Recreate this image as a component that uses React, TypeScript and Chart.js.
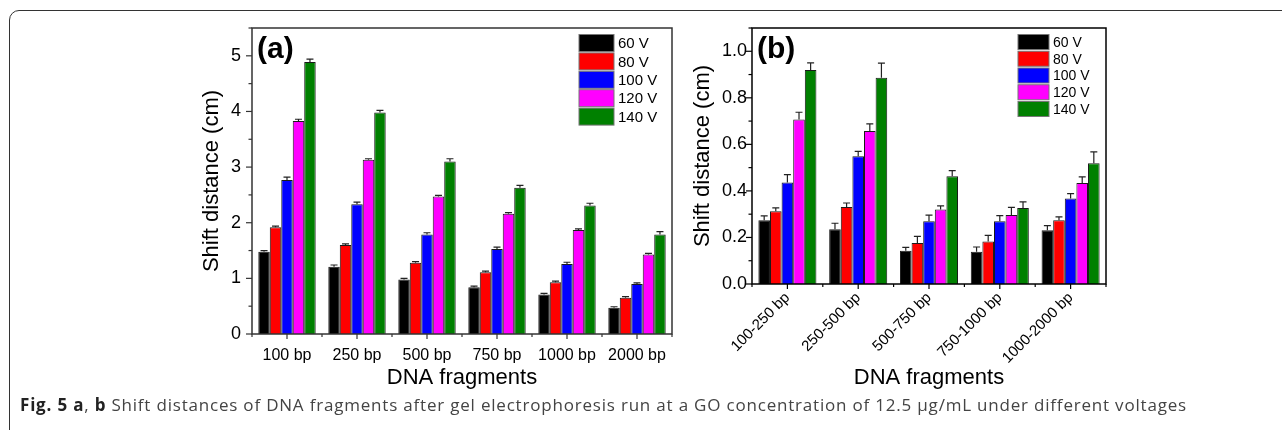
import React, { useEffect, useRef } from 'react';
import { Chart, registerables } from 'chart.js';
Chart.register(...registerables);

// ---------- data ----------
const seriesLabels = ['60 V', '80 V', '100 V', '120 V', '140 V'];
const seriesColors = ['#000000', '#ff0000', '#0000ff', '#ff00ff', '#008000'];

const catsA = ['100 bp', '250 bp', '500 bp', '750 bp', '1000 bp', '2000 bp'];
const v60A = [1.48, 1.21, 0.98, 0.84, 0.71, 0.47];
const v80A = [1.92, 1.6, 1.28, 1.11, 0.93, 0.65];
const v100A = [2.77, 2.33, 1.79, 1.53, 1.26, 0.9];
const v120A = [3.83, 3.13, 2.47, 2.16, 1.87, 1.43];
const v140A = [4.89, 3.98, 3.1, 2.63, 2.31, 1.79];
const e60A = [0.02, 0.03, 0.02, 0.02, 0.02, 0.02];
const e80A = [0.02, 0.02, 0.02, 0.02, 0.02, 0.02];
const e100A = [0.05, 0.04, 0.03, 0.03, 0.03, 0.02];
const e120A = [0.03, 0.02, 0.02, 0.02, 0.02, 0.02];
const e140A = [0.05, 0.04, 0.05, 0.04, 0.04, 0.05];

const catsB = ['100-250 bp', '250-500 bp', '500-750 bp', '750-1000 bp', '1000-2000 bp'];
const v60B = [0.274, 0.235, 0.143, 0.139, 0.231];
const v80B = [0.313, 0.331, 0.176, 0.183, 0.274];
const v100B = [0.436, 0.549, 0.27, 0.27, 0.367];
const v120B = [0.707, 0.657, 0.32, 0.296, 0.434];
const v140B = [0.919, 0.886, 0.463, 0.327, 0.519];
const e60B = [0.019, 0.026, 0.014, 0.02, 0.02];
const e80B = [0.014, 0.017, 0.029, 0.026, 0.014];
const e100B = [0.034, 0.021, 0.026, 0.024, 0.021];
const e120B = [0.031, 0.031, 0.016, 0.033, 0.026];
const e140B = [0.031, 0.063, 0.024, 0.026, 0.049];

const yTicksA = [0, 1, 2, 3, 4, 5];
const yTicksB = [0, 0.2, 0.4, 0.6, 0.8, 1.0];

const SANS = '"Liberation Sans", Arial, Helvetica, sans-serif';

type PanelCfg = {
  id: string;
  label: string;
  cats: string[];
  values: number[][];
  errors: number[][];
  yTicks: number[];
  yMax: number;
  yMinorStep: number;
  decimals: number;
  left: number;
  w: number;
  h: number;
  padTop: number;
  padRight: number;
  yWidth: number;
  xHeight: number;
  yTitlePad: number;
  yTickPad: number;
  xTickPad: number;
  xRotate: boolean;
  xTickFont: any;
  xTitleFont: any;
  xTitlePad: number;
  yTickFont: any;
  axisColor: string;
  legend: { dx: number; dy: number; row: number; sw: number; sh: number; font: number; gap: number };
  labelFont: number;
};

const panelA: PanelCfg = {
  id: 'a',
  label: '(a)',
  cats: catsA,
  values: [v60A, v80A, v100A, v120A, v140A],
  errors: [e60A, e80A, e100A, e120A, e140A],
  yTicks: yTicksA,
  yMax: 5.5,
  yMinorStep: 0.5,
  decimals: 0,
  left: 150,
  w: 540,
  h: 400,
  padTop: 28,
  padRight: 18,
  yWidth: 102,
  xHeight: 66,
  yTitlePad: 49,
  yTickPad: 11,
  xTickPad: 12,
  xRotate: false,
  xTickFont: { family: SANS, size: 16 },
  xTitleFont: { family: SANS, size: 22 },
  xTitlePad: 9,
  yTickFont: { family: SANS, size: 18 },
  axisColor: '#333333',
  legend: { dx: 93, dy: 15, row: 18.4, sw: 35, sh: 17, font: 15, gap: 4 },
  labelFont: 30,
};

const panelB: PanelCfg = {
  id: 'b',
  label: '(b)',
  cats: catsB,
  values: [v60B, v80B, v100B, v120B, v140B],
  errors: [e60B, e80B, e100B, e120B, e140B],
  yTicks: yTicksB,
  yMax: 1.1,
  yMinorStep: 0.1,
  decimals: 1,
  left: 690,
  w: 440,
  h: 400,
  padTop: 28,
  padRight: 24,
  yWidth: 62,
  xHeight: 116,
  yTitlePad: 0,
  yTickPad: 5,
  xTickPad: 5,
  xRotate: true,
  xTickFont: { family: SANS, size: 15 },
  xTitleFont: { family: SANS, size: 22 },
  xTitlePad: 9,
  yTickFont: { family: SANS, size: 18 },
  axisColor: '#000000',
  legend: { dx: 88, dy: 14, row: 16.75, sw: 31, sh: 15, font: 14, gap: 4 },
  labelFont: 30,
};

function makeDecor(cfg: PanelCfg) {
  return {
    id: 'decor_' + cfg.id,
    afterDatasetsDraw(chart: any) {
      const ctx = chart.ctx;
      const ys = chart.scales.y;
      ctx.save();
      ctx.strokeStyle = '#222';
      ctx.lineWidth = 1.2;
      chart.data.datasets.forEach((ds: any, di: number) => {
        const meta = chart.getDatasetMeta(di);
        meta.data.forEach((bar: any, i: number) => {
          const v = ds.data[i];
          const e = cfg.errors[di][i];
          const yTop = ys.getPixelForValue(v);
          const yErr = ys.getPixelForValue(v + e);
          ctx.beginPath();
          ctx.moveTo(bar.x, yTop);
          ctx.lineTo(bar.x, yErr);
          ctx.moveTo(bar.x - 3.5, yErr);
          ctx.lineTo(bar.x + 3.5, yErr);
          ctx.stroke();
        });
      });
      ctx.restore();
    },
    afterDraw(chart: any) {
      const ctx = chart.ctx;
      const { left, right, top, bottom } = chart.chartArea;
      const ys = chart.scales.y;
      const xs = chart.scales.x;
      ctx.save();
      // frame
      ctx.strokeStyle = cfg.axisColor;
      ctx.lineWidth = 1.5;
      ctx.strokeRect(left, top, right - left, bottom - top);
      // y ticks
      ctx.lineWidth = 1.2;
      const nMinor = Math.round(cfg.yMax / cfg.yMinorStep);
      for (let k = 0; k <= nMinor; k++) {
        const v = k * cfg.yMinorStep;
        const isMajor = cfg.yTicks.some((t) => Math.abs(t - v) < 1e-6);
        const y = ys.getPixelForValue(v);
        ctx.beginPath();
        ctx.moveTo(left, y);
        ctx.lineTo(left - (isMajor ? 6 : 3.5), y);
        ctx.stroke();
      }
      // x ticks
      const n = cfg.cats.length;
      const step = (right - left) / n;
      for (let i = 0; i < n; i++) {
        const cx = xs.getPixelForValue(i);
        ctx.beginPath();
        ctx.moveTo(cx, bottom);
        ctx.lineTo(cx, bottom + 5);
        ctx.stroke();
      }
      for (let i = 0; i <= n; i++) {
        const bx = left + i * step;
        ctx.beginPath();
        ctx.moveTo(bx, bottom);
        ctx.lineTo(bx, bottom + 3);
        ctx.stroke();
      }
      // legend
      const L = cfg.legend;
      const x0 = right - L.dx;
      chart.data.datasets.forEach((ds: any, di: number) => {
        const cy = top + L.dy + di * L.row;
        ctx.fillStyle = ds.backgroundColor;
        ctx.fillRect(x0, cy - L.sh / 2, L.sw, L.sh);
        ctx.strokeStyle = '#777';
        ctx.lineWidth = 1;
        ctx.strokeRect(x0, cy - L.sh / 2, L.sw, L.sh);
        ctx.fillStyle = '#000';
        ctx.font = `${L.font}px ${SANS}`;
        ctx.textAlign = 'left';
        ctx.textBaseline = 'middle';
        ctx.fillText(ds.label, x0 + L.sw + L.gap, cy + 1);
      });
      // panel label
      ctx.fillStyle = '#000';
      ctx.font = `bold ${cfg.labelFont}px ${SANS}`;
      ctx.textAlign = 'left';
      ctx.textBaseline = 'middle';
      ctx.fillText(cfg.label, left + 5, top + 22);
      ctx.restore();
    },
  };
}

function Panel({ cfg }: { cfg: PanelCfg }) {
  const ref = useRef<HTMLCanvasElement | null>(null);
  useEffect(() => {
    if (!ref.current) return;
    const chart = new Chart(ref.current, {
      type: 'bar',
      data: {
        labels: cfg.cats,
        datasets: seriesLabels.map((lab, i) => ({
          label: lab,
          data: cfg.values[i],
          backgroundColor: seriesColors[i],
          borderColor: '#1a1a1a',
          borderWidth: 1,
          categoryPercentage: 0.82,
          barPercentage: 1.0,
        })),
      },
      options: {
        responsive: false,
        animation: false,
        devicePixelRatio: 1,
        layout: { padding: { top: cfg.padTop, right: cfg.padRight, left: 0, bottom: 0 } },
        plugins: { legend: { display: false }, tooltip: { enabled: false } },
        scales: {
          x: {
            grid: { display: false, tickLength: 0 },
            border: { display: false },
            afterFit: (s: any) => {
              s.height = cfg.xHeight;
            },
            ticks: {
              color: '#000',
              font: cfg.xTickFont,
              padding: cfg.xTickPad,
              autoSkip: false,
              maxRotation: cfg.xRotate ? 45 : 0,
              minRotation: cfg.xRotate ? 45 : 0,
            },
            title: {
              display: true,
              text: 'DNA fragments',
              color: '#000',
              font: cfg.xTitleFont,
              padding: { top: 0, bottom: cfg.xTitlePad },
            },
          },
          y: {
            min: 0,
            max: cfg.yMax,
            grid: { display: false, tickLength: 0 },
            border: { display: false },
            afterFit: (s: any) => {
              s.width = cfg.yWidth;
            },
            afterBuildTicks: (s: any) => {
              s.ticks = cfg.yTicks.map((v) => ({ value: v }));
            },
            ticks: {
              color: '#000',
              font: cfg.yTickFont,
              padding: cfg.yTickPad,
              callback: (v: any) => Number(v).toFixed(cfg.decimals),
            },
            title: {
              display: true,
              text: 'Shift distance (cm)',
              color: '#000',
              font: { family: SANS, size: 22 },
              padding: { top: cfg.yTitlePad, bottom: 0 },
            },
          },
        },
      },
      plugins: [makeDecor(cfg)],
    } as any);
    return () => chart.destroy();
  }, [cfg]);
  return (
    <canvas
      ref={ref}
      width={cfg.w}
      height={cfg.h}
      style={{ position: 'absolute', left: cfg.left, top: 0, width: cfg.w, height: cfg.h }}
    />
  );
}

export default function App() {
  return (
    <div
      style={{
        position: 'absolute',
        left: 0,
        top: 0,
        width: 1282,
        height: 430,
        overflow: 'hidden',
        background: '#fff',
      }}
    >
      <div
        style={{
          position: 'absolute',
          left: 9,
          top: 10,
          width: 1300,
          height: 460,
          border: '1.5px solid #333',
          borderRadius: 10,
          boxSizing: 'border-box',
        }}
      />
      <Panel cfg={panelA} />
      <Panel cfg={panelB} />
      <div
        style={{
          position: 'absolute',
          left: 20,
          top: 393,
          fontFamily: '"Open Sans", "Noto Sans", sans-serif',
          fontSize: 17,
          letterSpacing: '0.8px',
          color: '#444',
          whiteSpace: 'nowrap',
        }}
      >
        <b style={{ color: '#222' }}>Fig. 5</b> <b style={{ color: '#222' }}>a</b>, <b style={{ color: '#222' }}>b</b>{' '}
        Shift distances of DNA fragments after gel electrophoresis run at a GO concentration of 12.5 µg/mL under
        different voltages
      </div>
    </div>
  );
}
